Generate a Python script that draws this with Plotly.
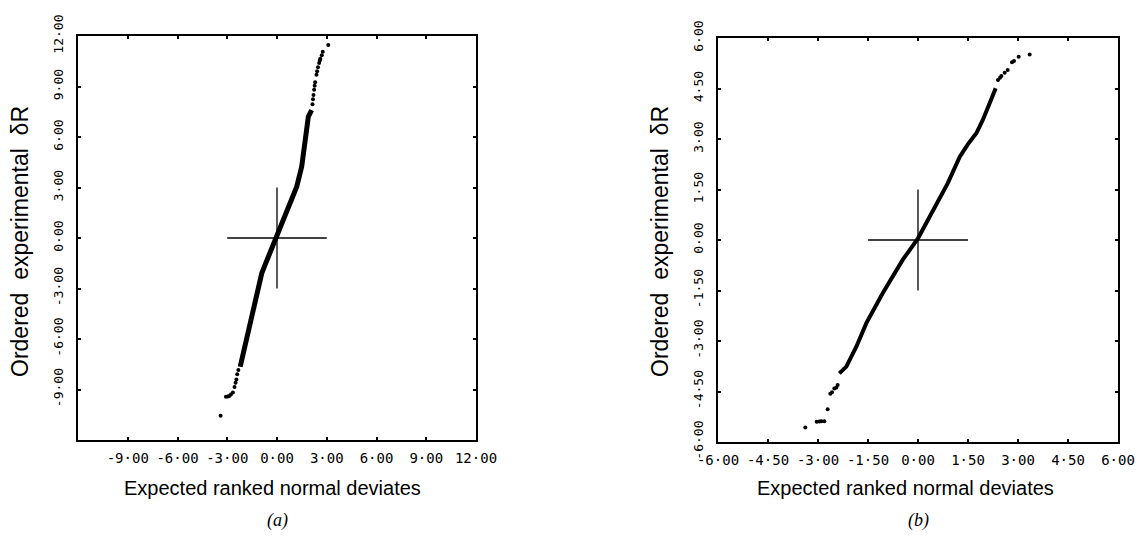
import plotly.graph_objects as go

# ---------------- data ----------------
# panel (a): continuous body of the ordered points
a_body_x = [-2.22, -2.03, -1.83, -1.59, -1.33, -1.13, -0.92, -0.72, -0.52, -0.02, 0.58, 0.88, 1.19, 1.49, 1.69, 1.89, 2.09]
a_body_y = [-7.65, -6.85, -6.06, -4.87, -3.88, -2.89, -2.10, -1.60, -1.11, 0.08, 1.47, 2.25, 3.05, 4.24, 5.63, 7.21, 7.60]
# panel (a): sparse tails
a_tail_x = [-3.40, -3.08, -2.98, -2.88, -2.78, -2.66, -2.56, -2.50, -2.45, -2.40, -2.33,
            2.14, 2.17, 2.20, 2.24, 2.27, 2.30, 2.38, 2.42, 2.47, 2.54, 2.58, 2.61, 2.70, 2.76, 3.09]
a_tail_y = [-10.56, -9.43, -9.42, -9.38, -9.30, -9.18, -8.85, -8.60, -8.40, -8.10, -7.84,
            7.95, 8.25, 8.50, 8.80, 9.05, 9.25, 9.70, 9.90, 10.15, 10.40, 10.55, 10.65, 10.85, 11.07, 11.47]

# panel (b): continuous body
b_body_x = [-2.36, -2.15, -1.85, -1.55, -1.06, -0.46, 0.00, 0.55, 0.89, 1.25, 1.50, 1.75, 1.94, 2.15, 2.33]
b_body_y = [-3.96, -3.76, -3.17, -2.47, -1.58, -0.59, 0.05, 1.09, 1.68, 2.47, 2.85, 3.17, 3.56, 4.06, 4.51]
# panel (b): sparse tails
b_tail_x = [-3.38, -3.04, -2.96, -2.90, -2.81, -2.71, -2.63, -2.58, -2.51, -2.45, -2.41,
            2.40, 2.46, 2.50, 2.60, 2.69, 2.82, 2.88, 3.02, 3.35]
b_tail_y = [-5.57, -5.40, -5.39, -5.38, -5.38, -5.03, -4.57, -4.52, -4.41, -4.38, -4.31,
            4.75, 4.82, 4.87, 4.97, 5.05, 5.28, 5.32, 5.44, 5.51]

# axes / ticks
a_range = [-12, 12]
a_ticks = [-9, -6, -3, 0, 3, 6, 9, 12]
a_ticktext = ["-9\u00b700", "-6\u00b700", "-3\u00b700", "0\u00b700", "3\u00b700", "6\u00b700", "9\u00b700", "12\u00b700"]
b_range = [-6, 6]
b_ticks = [-6, -4.5, -3, -1.5, 0, 1.5, 3, 4.5, 6]
b_ticktext = ["-6\u00b700", "-4\u00b750", "-3\u00b700", "-1\u00b750", "0\u00b700", "1\u00b750", "3\u00b700", "4\u00b750", "6\u00b700"]
a_cross = 3.0
b_cross = 1.5

x_title = "Expected ranked normal deviates"
y_title = "Ordered  experimental  \u03b4R"
panel_labels = ["(a)", "(b)"]

# ---------------- figure ----------------
W, H = 1143, 537
fig = go.Figure()

def add_panel(bx, by, tx, ty, xa, ya, lw):
    fig.add_trace(go.Scatter(x=bx, y=by, mode="lines", xaxis=xa, yaxis=ya,
                             line=dict(color="black", width=lw),
                             hoverinfo="skip", showlegend=False))
    fig.add_trace(go.Scatter(x=tx, y=ty, mode="markers", xaxis=xa, yaxis=ya,
                             marker=dict(color="black", size=4),
                             hoverinfo="skip", showlegend=False))

add_panel(a_body_x, a_body_y, a_tail_x, a_tail_y, "x", "y", 5)
add_panel(b_body_x, b_body_y, b_tail_x, b_tail_y, "x2", "y2", 4)

xtickfont = dict(family="DejaVu Sans Mono", size=14, color="black")
ytickfont = dict(family="DejaVu Sans Mono", size=13, color="black")
common = dict(showgrid=False, zeroline=False, showline=True, linecolor="black", linewidth=1.5,
              mirror="allticks", ticks="inside", ticklen=3, tickcolor="black", tickwidth=1.5,
              fixedrange=True, automargin=False)

def px(v):
    return v / W

def py(v):
    return 1 - v / H

fig.update_layout(
    width=W, height=H, autosize=False,
    margin=dict(l=0, r=0, t=0, b=0, pad=0),
    paper_bgcolor="white", plot_bgcolor="white",
    xaxis=dict(domain=[px(78), px(476)], range=a_range, anchor="y", tickfont=xtickfont,
               tickmode="array", tickvals=a_ticks, ticktext=a_ticktext, ticklabelstandoff=4, **common),
    yaxis=dict(domain=[py(440), py(36)], range=a_range, anchor="x", tickfont=ytickfont,
               tickmode="array", tickvals=a_ticks, ticktext=a_ticktext, tickangle=-90,
               ticklabelstandoff=8, **common),
    xaxis2=dict(domain=[px(718), px(1118)], range=b_range, anchor="y2", tickfont=xtickfont,
                tickmode="array", tickvals=b_ticks, ticktext=b_ticktext, ticklabelstandoff=4, **common),
    yaxis2=dict(domain=[py(442), py(38)], range=b_range, anchor="x2", tickfont=ytickfont,
                tickmode="array", tickvals=b_ticks, ticktext=b_ticktext, tickangle=-90,
                ticklabelstandoff=8, **common),
)

# cross at the origin
for xr, yr, c in [("x", "y", a_cross), ("x2", "y2", b_cross)]:
    fig.add_shape(type="line", xref=xr, yref=yr, x0=-c, x1=c, y0=0, y1=0,
                  line=dict(color="black", width=1.3))
    fig.add_shape(type="line", xref=xr, yref=yr, x0=0, x1=0, y0=-c, y1=c,
                  line=dict(color="black", width=1.3))

xt_font = dict(family="Liberation Sans", size=20, color="black")
yt_font = dict(family="Liberation Sans", size=23, color="black")
for cx, tx in [(272, 20), (905, 660)]:
    fig.add_annotation(x=px(cx), y=py(488), xref="paper", yref="paper", text=x_title,
                       showarrow=False, font=xt_font, xanchor="center", yanchor="middle")
    fig.add_annotation(x=px(tx), y=py(242), xref="paper", yref="paper", text=y_title,
                       showarrow=False, font=yt_font, textangle=-90,
                       xanchor="center", yanchor="middle")

for cx, lab in zip([277, 918], panel_labels):
    fig.add_annotation(x=px(cx), y=py(520), xref="paper", yref="paper",
                       text="<i>" + lab + "</i>", showarrow=False,
                       font=dict(family="Liberation Serif", size=18, color="black"),
                       xanchor="center", yanchor="middle")

fig.write_html("out.html", config={"displayModeBar": False},
               post_script="document.body.style.margin='0px';")
